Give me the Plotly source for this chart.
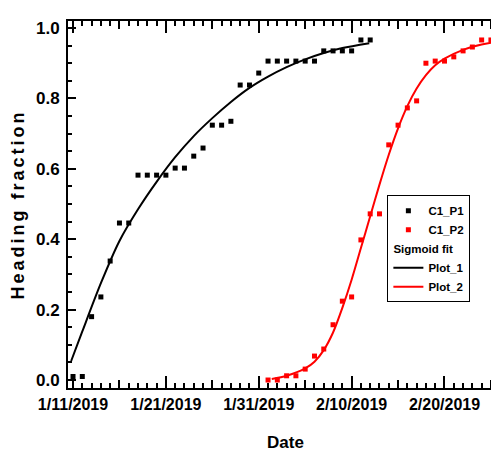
import pandas as pd
import plotly.graph_objects as go

# ---------------- data ----------------
start_date = "2019-01-11"

# C1_P1 (black squares) : day offset from 1/11/2019 and heading fraction
p1_days = list(range(0, 33))
p1_vals = [0.01, 0.01, 0.18, 0.236, 0.338, 0.446, 0.446, 0.582, 0.582, 0.582, 0.582,
           0.602, 0.602, 0.636, 0.659, 0.724, 0.724, 0.735, 0.838, 0.838, 0.872,
           0.906, 0.906, 0.906, 0.906, 0.906, 0.906, 0.935, 0.935, 0.935, 0.935,
           0.966, 0.966]

# C1_P2 (red squares)
p2_days = list(range(21, 47))
p2_vals = [0.0, 0.0, 0.012, 0.012, 0.031, 0.068, 0.088, 0.157, 0.224, 0.236, 0.398,
           0.472, 0.472, 0.668, 0.724, 0.773, 0.793, 0.90, 0.906, 0.906, 0.918,
           0.935, 0.946, 0.966, 0.966, 0.966]

# Sigmoid fit curves
fit1_days = [-0.2, 1, 3, 5, 7, 9, 11, 13, 15, 17, 19, 21, 23, 25, 27, 29, 31.9]
fit1_vals = [0.054, 0.138, 0.275, 0.395, 0.485, 0.563, 0.633, 0.693, 0.744, 0.790,
             0.830, 0.862, 0.889, 0.911, 0.929, 0.943, 0.957]

fit2_days = [21.4, 23, 25, 26, 27, 28, 29, 30, 31, 32, 33, 34, 35, 36, 37, 38, 39,
             40, 42, 44, 46.3]
fit2_vals = [0.003, 0.012, 0.033, 0.052, 0.085, 0.135, 0.205, 0.285, 0.375, 0.465,
             0.555, 0.64, 0.715, 0.778, 0.828, 0.866, 0.894, 0.913, 0.938, 0.953,
             0.963]

x_tick_days = [0, 10, 20, 30, 40]
x_tick_labels = ["1/11/2019", "1/21/2019", "1/31/2019", "2/10/2019", "2/20/2019"]
x_mid_tick_days = [5, 15, 25, 35, 45]
y_tick_vals = [0.0, 0.2, 0.4, 0.6, 0.8, 1.0]
y_tick_labels = ["0.0", "0.2", "0.4", "0.6", "0.8", "1.0"]

x_range_days = [-0.54, 46.3]
y_range = [-0.0227, 1.0199]

# ---------------- helpers ----------------
base = pd.Timestamp(start_date)


def to_dates(days):
    return [base + pd.Timedelta(days=d) for d in days]


FONT = "Liberation Sans, Arial, sans-serif"

fig = go.Figure()

fig.add_trace(go.Scatter(
    x=to_dates(p1_days), y=p1_vals, mode="markers", name="C1_P1",
    marker=dict(symbol="square", size=5, color="black"),
    legendgroup="data", legendrank=1))
fig.add_trace(go.Scatter(
    x=to_dates(p2_days), y=p2_vals, mode="markers", name="C1_P2",
    marker=dict(symbol="square", size=5, color="red"),
    legendgroup="data", legendrank=2))
fig.add_trace(go.Scatter(
    x=to_dates(fit1_days), y=fit1_vals, mode="lines", name="Plot_1",
    line=dict(color="black", width=2, shape="spline", smoothing=0.8),
    legendgroup="fit", legendgrouptitle=dict(text="Sigmoid fit"), legendrank=3))
fig.add_trace(go.Scatter(
    x=to_dates(fit2_days), y=fit2_vals, mode="lines", name="Plot_2",
    line=dict(color="red", width=2, shape="spline", smoothing=0.8),
    legendgroup="fit", legendrank=4))
# invisible trace so the overlaid mid-tick axis is drawn
fig.add_trace(go.Scatter(x=[None], y=[None], xaxis="x2", yaxis="y",
                         showlegend=False, hoverinfo="skip"))

xr = [str(d) for d in to_dates(x_range_days)]

fig.update_layout(
    width=499, height=462,
    margin=dict(l=60, r=2, t=13, b=82),
    paper_bgcolor="white", plot_bgcolor="white",
    font=dict(family=FONT, color="black"),
    showlegend=True,
    legend=dict(
        x=0.925, xanchor="right", y=0.525, yanchor="top",
        bordercolor="black", borderwidth=1, bgcolor="white",
        font=dict(family=FONT, size=11.5, color="black", weight="bold"),
        grouptitlefont=dict(family=FONT, size=11.5, color="black", weight="bold"),
        tracegroupgap=0, traceorder="grouped", itemwidth=30,
    ),
    xaxis=dict(
        type="date", range=xr,
        tickmode="array", tickvals=to_dates(x_tick_days), ticktext=x_tick_labels,
        ticks="inside", ticklen=12, tickwidth=2, tickcolor="black",
        showline=True, linewidth=2, linecolor="black", mirror="ticks",
        showgrid=False, zeroline=False,
        tickfont=dict(family=FONT, size=16, weight="bold"),
        ticklabelstandoff=1,
        minor=dict(tickmode="linear", tick0=start_date, dtick=86400000,
                   ticks="inside", ticklen=5, tickwidth=1.5, tickcolor="black",
                   showgrid=False),
        title=dict(text="Date", font=dict(family=FONT, size=17, weight="bold"),
                   standoff=24),
    ),
    xaxis2=dict(
        type="date", range=xr, overlaying="x", anchor="y", side="bottom",
        tickmode="array", tickvals=to_dates(x_mid_tick_days),
        ticks="inside", ticklen=8, tickwidth=1.5, tickcolor="black",
        showticklabels=False, showline=False, mirror="ticks",
        showgrid=False, zeroline=False,
    ),
    yaxis=dict(
        range=y_range,
        tickmode="array", tickvals=y_tick_vals, ticktext=y_tick_labels,
        ticks="inside", ticklen=8, tickwidth=2, tickcolor="black",
        showline=True, linewidth=2, linecolor="black", mirror="ticks",
        showgrid=False, zeroline=False,
        tickfont=dict(family=FONT, size=17, weight="bold"),
        ticklabelstandoff=3,
        minor=dict(tickmode="linear", tick0=0, dtick=0.05,
                   ticks="inside", ticklen=4, tickwidth=1.5, tickcolor="black",
                   showgrid=False),
        title=dict(text='<span style="letter-spacing:3px">Heading fraction</span>',
                   font=dict(family=FONT, size=18, weight="bold"), standoff=10),
    ),
)

fig.write_html("out.html")
